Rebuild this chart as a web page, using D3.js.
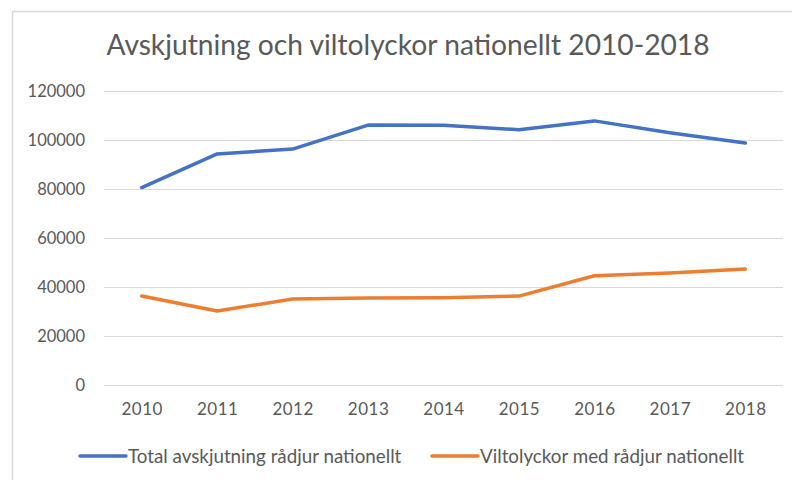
<!DOCTYPE html>
<html>
<head>
<meta charset="utf-8">
<script src="https://cdn.jsdelivr.net/npm/d3@7"></script>
<style>
  body { margin: 0; background: #fff; }
  text { font-family: Lato, "Open Sans", sans-serif; fill: #595959; }
</style>
</head>
<body>
<script>
// data
var years = ["2010", "2011", "2012", "2013", "2014", "2015", "2016", "2017", "2018"];
var avskjutning = [80600, 94300, 96300, 106100, 106000, 104200, 107800, 103000, 98800];
var viltolyckor = [36300, 30200, 35100, 35500, 35600, 36300, 44600, 45700, 47300];
var yTicks = [0, 20000, 40000, 60000, 80000, 100000, 120000];
var seriesNames = ["Total avskjutning rådjur nationellt", "Viltolyckor med rådjur nationellt"];
var colors = ["#4472c4", "#ed7d31"];

var width = 792, height = 480;
var svg = d3.select("body").append("svg")
            .attr("width", width)
            .attr("height", height);

// chart frame
svg.append("rect")
   .attr("x", 12.5).attr("y", 11.5)
   .attr("width", width).attr("height", height)
   .attr("fill", "none")
   .attr("stroke", "#d9d9d9")
   .attr("stroke-width", 1.5);

svg.append("text")
   .attr("x", 408).attr("y", 55)
   .attr("text-anchor", "middle")
   .attr("font-size", "28.2px")
   .text("Avskjutning och viltolyckor nationellt 2010-2018");

var x = d3.scalePoint().domain(years).range([104, 783]).padding(0.5);
var y = d3.scaleLinear().domain([0, 120000]).range([385, 91]);

// gridlines + y labels
var yAxis = svg.append("g")
   .attr("transform", "translate(104,0)")
   .call(d3.axisLeft(y).tickValues(yTicks).tickSize(-679).tickPadding(19).tickFormat(d3.format("d")));
yAxis.select(".domain").remove();
yAxis.selectAll("line").attr("stroke", "#d9d9d9").attr("stroke-width", 1.2);
yAxis.selectAll("text").attr("font-size", "16.5px").attr("fill", "#595959")
     .attr("font-family", "Lato, 'Open Sans', sans-serif");

var xAxis = svg.append("g")
   .attr("transform", "translate(0,385)")
   .call(d3.axisBottom(x).tickSize(0).tickPadding(18));
xAxis.select(".domain").remove();
xAxis.selectAll("text").attr("font-size", "17px").attr("fill", "#595959")
     .attr("letter-spacing", "0.5px")
     .attr("font-family", "Lato, 'Open Sans', sans-serif");

var line = d3.line()
   .x((d, i) => x(years[i]))
   .y(d => y(d));

[avskjutning, viltolyckor].forEach(function (s, k) {
    svg.append("path")
       .attr("d", line(s))
       .attr("fill", "none")
       .attr("stroke", colors[k])
       .attr("stroke-width", 3.5)
       .attr("stroke-linejoin", "round")
       .attr("stroke-linecap", "round");
});

// legend
var legX = [80, 432];
seriesNames.forEach(function (name, k) {
    var g = svg.append("g").attr("transform", "translate(" + legX[k] + ",456)");
    g.append("line")
     .attr("x1", 0).attr("x2", 46)
     .attr("stroke", colors[k])
     .attr("stroke-width", 3.5)
     .attr("stroke-linecap", "round");
    g.append("text")
     .attr("x", 48).attr("y", 6.5)
     .attr("font-size", "18.8px")
     .text(name);
});
</script>
</body>
</html>
